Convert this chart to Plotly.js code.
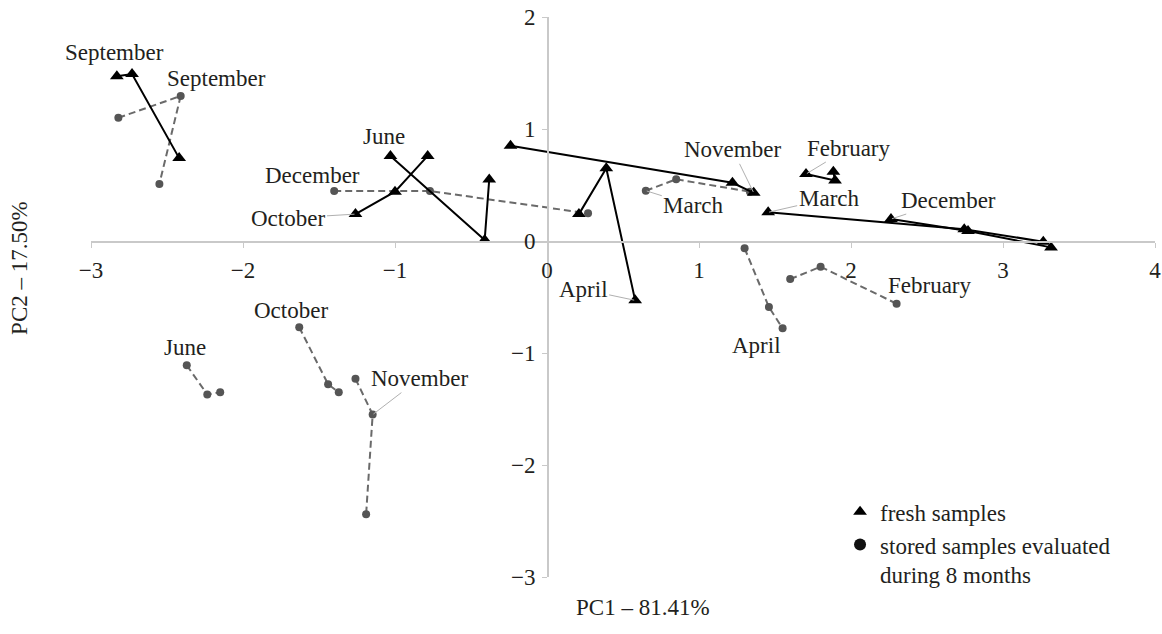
<!DOCTYPE html>
<html>
<head>
<meta charset="utf-8">
<script src="https://cdn.plot.ly/plotly-3.0.1.min.js"></script>
<style>
  html, body { margin: 0; padding: 0; background: #fff; }
  #chart { width: 1162px; height: 634px; }
</style>
</head>
<body>
<div id="chart"></div>
<script>
// PCA scores: fresh samples (one polyline per harvest month)
const freshMonths = ['September', 'June', 'October', 'November', 'April', 'March', 'December', 'February'];
const freshX = [
  [-2.83, -2.73, -2.42],
  [-1.03, -0.41, -0.38],
  [-0.785, -1.00, -1.26],
  [-0.24, 1.22, 1.36],
  [0.21, 0.39, 0.58],
  [1.455, 2.745, 3.265],
  [2.263, 2.77, 3.316],
  [1.704, 1.895, 1.884]
];
const freshY = [
  [1.47, 1.49, 0.74],
  [0.76, 0.01, 0.55],
  [0.76, 0.44, 0.24],
  [0.85, 0.52, 0.43],
  [0.24, 0.65, -0.53],
  [0.256, 0.105, -0.006],
  [0.196, 0.09, -0.057],
  [0.598, 0.54, 0.619]
];

// PCA scores: stored samples evaluated during 8 months
const storedMonths = ['September', 'December', 'March', 'April', 'February', 'June', 'October', 'November'];
const storedX = [
  [-2.82, -2.41, -2.55],
  [-1.40, -0.77, 0.27],
  [0.65, 0.85, 1.335],
  [1.30, 1.46, 1.55],
  [1.60, 1.80, 2.30],
  [-2.37, -2.235, -2.15],
  [-1.63, -1.44, -1.37],
  [-1.26, -1.147, -1.19]
];
const storedY = [
  [1.10, 1.295, 0.51],
  [0.446, 0.446, 0.247],
  [0.449, 0.551, 0.44],
  [-0.065, -0.59, -0.78],
  [-0.34, -0.23, -0.56],
  [-1.11, -1.37, -1.35],
  [-0.77, -1.28, -1.35],
  [-1.23, -1.55, -2.44]
];

const xTicks = [-3, -2, -1, 0, 1, 2, 3, 4];
const yTicks = [-3, -2, -1, 0, 1, 2];
const xTitle = 'PC1 – 81.41%';
const yTitle = 'PC2 – 17.50%';
const legendFresh = 'fresh samples';
const legendStored = 'stored samples evaluated<br>during 8 months';

// Label placement: which point of the month's polyline the label belongs to,
// pixel offset of the label, and whether a leader line is drawn.
const freshLabelPlacement = {
  September: { i: 0, ax: -2, ay: -24, leader: false },
  June:      { i: 0, ax: -6, ay: -19, leader: false },
  October:   { i: 2, ax: -67, ay: 4, leader: true },
  November:  { i: 2, ax: -21, ay: -43, leader: true },
  April:     { i: 2, ax: -52, ay: -11, leader: true },
  March:     { i: 0, ax: 61, ay: -14, leader: true },
  December:  { i: 0, ax: 58, ay: -19, leader: true },
  February:  { i: 0, ax: 43, ay: -26, leader: true }
};
const storedLabelPlacement = {
  September: { i: 1, ax: 36, ay: -17, leader: false },
  December:  { i: 0, ax: -22, ay: -16, leader: false },
  March:     { i: 0, ax: 48, ay: 15, leader: true },
  April:     { i: 2, ax: -26, ay: 17, leader: false },
  February:  { i: 2, ax: 33, ay: -18, leader: false },
  June:      { i: 0, ax: -2, ay: -18, leader: false },
  October:   { i: 0, ax: -8, ay: -17, leader: false },
  November:  { i: 1, ax: 47, ay: -36, leader: true }
};

const FONT = 'Liberation Serif, Times New Roman, serif';
const FS = 23;
const TEXT = '#231f20';

const traces = [];

storedMonths.forEach((m, k) => {
  traces.push({
    type: 'scatter', mode: 'lines+markers', name: 'stored ' + m,
    x: storedX[k], y: storedY[k], showlegend: false, hoverinfo: 'skip',
    line: { color: '#6a6a6a', width: 2, dash: '7px,4px' },
    marker: { symbol: 'circle', size: 8, color: '#555555' }
  });
});

freshMonths.forEach((m, k) => {
  traces.push({
    type: 'scatter', mode: 'lines+markers', name: 'fresh ' + m,
    x: freshX[k], y: freshY[k], showlegend: false, hoverinfo: 'skip',
    line: { color: '#000000', width: 2 },
    marker: { symbol: 'triangle-up', size: 12, color: '#000000' }
  });
});

// legend entries (symbols only)
traces.push({
  type: 'scatter', mode: 'markers', name: legendFresh, x: [null], y: [null],
  marker: { symbol: 'triangle-up', size: 15, color: '#000000' }
});
traces.push({
  type: 'scatter', mode: 'markers', name: legendStored, x: [null], y: [null],
  marker: { symbol: 'circle', size: 9, color: '#111111' }
});

function labelAnnotations(months, xs, ys, placement) {
  return months.map((m, k) => {
    const p = placement[m];
    return {
      x: xs[k][p.i], y: ys[k][p.i], xref: 'x', yref: 'y',
      text: m, ax: p.ax, ay: p.ay,
      showarrow: true, arrowhead: 0, arrowwidth: 1, standoff: 1,
      arrowcolor: p.leader ? '#b0b0b0' : 'rgba(0,0,0,0)',
      font: { family: FONT, size: FS, color: TEXT }
    };
  });
}

const annotations = []
  .concat(labelAnnotations(freshMonths, freshX, freshY, freshLabelPlacement))
  .concat(labelAnnotations(storedMonths, storedX, storedY, storedLabelPlacement));

annotations.push({
  xref: 'paper', yref: 'paper', x: 0.454, y: -0.054, xanchor: 'left', yanchor: 'middle',
  text: xTitle, showarrow: false, font: { family: FONT, size: FS, color: TEXT }
});
annotations.push({
  xref: 'paper', yref: 'paper', x: -0.0667, y: 0.552, xanchor: 'center', yanchor: 'middle',
  text: yTitle, textangle: -90, showarrow: false, font: { family: FONT, size: FS, color: TEXT }
});

const axisCommon = {
  showgrid: false, zeroline: false, showline: true,
  linecolor: '#c9c9c9', linewidth: 1.5,
  ticks: 'outside', ticklen: 5, tickwidth: 1, tickcolor: '#c9c9c9',
  tickfont: { family: FONT, size: FS, color: TEXT },
  fixedrange: true
};

const layout = {
  width: 1162, height: 634,
  margin: { l: 91, r: 7, t: 17, b: 57 },
  paper_bgcolor: '#ffffff', plot_bgcolor: '#ffffff',
  font: { family: FONT, size: FS, color: TEXT },
  xaxis: Object.assign({}, axisCommon, {
    range: [-3, 4], tickvals: xTicks, anchor: 'free', position: 0.6,
    ticklabelstandoff: 3
  }),
  yaxis: Object.assign({}, axisCommon, {
    range: [-3, 2], tickvals: yTicks, anchor: 'free', position: 3 / 7,
    ticklabelstandoff: 2
  }),
  showlegend: true,
  legend: {
    x: 0.704, y: 0.155, xanchor: 'left', yanchor: 'top',
    bgcolor: 'rgba(0,0,0,0)', borderwidth: 0, valign: 'top',
    itemsizing: 'constant', tracegroupgap: 0,
    font: { family: FONT, size: FS, color: TEXT }
  },
  annotations: annotations
};

Plotly.newPlot('chart', traces, layout, { staticPlot: true, displayModeBar: false });
</script>
</body>
</html>
